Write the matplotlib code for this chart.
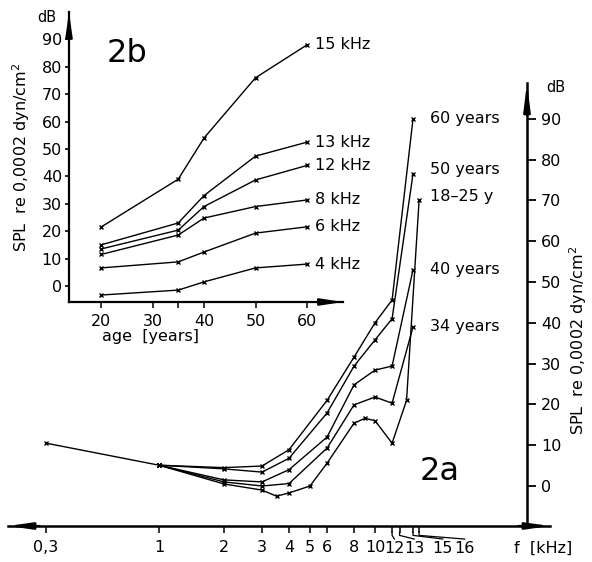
import numpy as np
import matplotlib.pyplot as plt

plt.rcParams['font.family'] = 'DejaVu Sans'
plt.rcParams['font.size'] = 11

W, H = 592, 562

# ---- 2a: threshold (dB SPL) against frequency, one curve per age group
f_start = [0.3, 1]
spl_start = [10.5, 5.1]

f_young = [1, 2, 3, 3.5, 4, 5, 6, 8, 9, 10, 12, 14, 16]
spl_young = [5.1, 0.5, -1.0, -2.5, -1.7, 0.0, 5.6, 15.4, 16.6, 16.0, 10.5, 21.0, 70.0]

f_old = [1, 2, 3, 4, 6, 8, 10, 12, 15]
spl_34 = [5.1, 1.0, 0.0, 0.6, 9.3, 19.9, 21.8, 20.3, 39.0]
spl_40 = [5.1, 1.5, 1.0, 4.0, 12.0, 24.8, 28.4, 29.4, 53.0]
spl_50 = [5.1, 4.2, 3.4, 6.8, 17.9, 29.4, 35.8, 41.0, 76.5]
spl_60 = [5.1, 4.5, 4.9, 8.9, 21.0, 31.6, 40.0, 45.6, 90.0]

age_groups = ['18–25 y', '34 years', '40 years', '50 years', '60 years']
group_label_spl = [71, 39, 53, 77.5, 90]

f_ticks = [0.3, 1, 2, 3, 4, 5, 6, 8, 10, 12, 13, 15, 16]
f_ticklabels = ['0,3', '1', '2', '3', '4', '5', '6', '8', '10', '', '', '', '']
f_offset_labels = ['12', '13', '15', '16']

# ---- 2b: threshold against age, one curve per frequency
ages = [20, 35, 40, 50, 60]
freq_names = ['15 kHz', '13 kHz', '12 kHz', '8 kHz', '6 kHz', '4 kHz']
spl_15k = [21.5, 39.0, 54.0, 76.0, 88.0]
spl_13k = [15.0, 23.0, 33.0, 47.4, 52.5]
spl_12k = [13.5, 20.4, 29.0, 38.7, 44.0]
spl_8k = [11.5, 18.6, 24.8, 29.0, 31.4]
spl_6k = [6.6, 8.8, 12.4, 19.3, 21.6]
spl_4k = [-3.3, -1.5, 1.5, 6.6, 8.0]

age_ticks = [20, 30, 35, 40, 50, 60]
age_ticklabels = ['20', '30', '', '40', '50', '60']
db_ticks = list(range(0, 100, 10))


def frac(x, y):
    return x / W, 1 - y / H


def arrow_head(ax, tip, base, length, width, lw=1.5):
    ax.annotate('', xy=tip, xytext=base,
                arrowprops=dict(arrowstyle='-|>,head_length=%g,head_width=%g' % (length, width),
                                color='k', lw=lw, shrinkA=0, shrinkB=0, mutation_scale=10),
                annotation_clip=False)


fig = plt.figure(figsize=(W / 100, H / 100), dpi=100)

# main axes (2a), placed so the log axis maps like the scan
f_lo, f_hi = 0.2, 10 ** ((550 - 159) / 216)
db_lo, db_hi = (486 - 526) / 4.08, (486 - 83) / 4.08
f_axis = 10 ** ((527 - 159) / 216)

ax = fig.add_axes([8 / W, (H - 526) / H, 542 / W, 443 / H])
ax.set_xscale('log')
ax.set_xlim(f_lo, f_hi)
ax.set_ylim(db_lo, db_hi)
ax.patch.set_alpha(0)
for s in ['left', 'top']:
    ax.spines[s].set_visible(False)
ax.spines['right'].set_position(('data', f_axis))
ax.spines['right'].set_linewidth(1.8)
ax.spines['bottom'].set_linewidth(1.8)
ax.yaxis.set_ticks_position('right')
ax.set_yticks(db_ticks)
ax.tick_params(axis='y', direction='out', length=6.5, width=1.3, pad=3.5, labelsize=11.5)
ax.set_xticks(f_ticks)
ax.set_xticklabels(f_ticklabels)
ax.minorticks_off()
ax.tick_params(axis='x', direction='out', length=5, width=1.1, pad=5, labelsize=11.5)

arrow_head(ax, (f_lo, db_lo), (f_lo * 1.4, db_lo), 1.4, 0.2, lw=1.6)
arrow_head(ax, (f_hi, db_lo), (f_hi / 1.4, db_lo), 1.4, 0.2, lw=1.6)
arrow_head(ax, (f_axis, db_hi), (f_axis, db_hi - 8), 1.6, 0.2, lw=1.6)

# leader lines for the crowded high-frequency tick labels
lead_to = [12.3, 15.2, 20.6, 26.0]
for f0, f1, lab in zip(f_ticks[-4:], lead_to, f_offset_labels):
    ax.plot([f0, f0, f1], [db_lo - 1.5, db_lo - 2.3, db_lo - 3.2], color='k', lw=0.9, clip_on=False)
    ax.text(f1, db_lo - 5.6, lab, ha='center', va='center', fontsize=11.5)

ax.plot(f_start, spl_start, color='k', lw=1.0, marker='x', ms=3, mew=1)
ax.plot(f_young, spl_young, color='k', lw=1.0, marker='x', ms=3, mew=1)
for spl in [spl_34, spl_40, spl_50, spl_60]:
    ax.plot(f_old, spl, color='k', lw=1.0, marker='x', ms=3, mew=1)
for name, y in zip(age_groups, group_label_spl):
    ax.text(18, y, name, ha='left', va='center', fontsize=11.5)

fig.text(*frac(556, 88), 'dB', ha='center', va='center', fontsize=10.5)
fig.text(*frac(578, 340), 'SPL  re 0,0002 dyn/cm$^2$', rotation=90, ha='center', va='center', fontsize=11.5)
fig.text(*frac(543, 548), 'f  [kHz]', ha='center', va='center', fontsize=11.5)
fig.text(*frac(440, 472), '2a', ha='center', va='center', fontsize=23)

# inset axes (2b)
a_lo, a_hi = 20 + (69 - 101) / 5.15, 20 + (343 - 101) / 5.15
d_lo, d_hi = (286 - 302) / 2.74, (286 - 12) / 2.74

ax2 = fig.add_axes([69 / W, (H - 302) / H, 274 / W, 290 / H])
ax2.set_xlim(a_lo, a_hi)
ax2.set_ylim(d_lo, d_hi)
ax2.patch.set_alpha(0)
for s in ['right', 'top']:
    ax2.spines[s].set_visible(False)
ax2.spines['left'].set_linewidth(1.6)
ax2.spines['bottom'].set_linewidth(1.6)
ax2.set_yticks(db_ticks)
ax2.set_xticks(age_ticks)
ax2.set_xticklabels(age_ticklabels)
ax2.tick_params(axis='y', direction='out', length=3, width=1.2, pad=2, labelsize=11.5)
ax2.tick_params(axis='x', direction='out', length=4.5, width=1.1, pad=4, labelsize=11.5)
arrow_head(ax2, (a_lo, d_hi), (a_lo, d_hi - 10), 1.4, 0.2, lw=1.5)
arrow_head(ax2, (a_hi, d_lo), (a_hi - 5, d_lo), 1.3, 0.2, lw=1.5)

for spl, name in zip([spl_15k, spl_13k, spl_12k, spl_8k, spl_6k, spl_4k], freq_names):
    ax2.plot(ages, spl, color='k', lw=1.0, marker='x', ms=3, mew=1)
    ax2.text(61.5, spl[-1], name, ha='left', va='center', fontsize=11.5)

fig.text(*frac(47, 17), 'dB', ha='center', va='center', fontsize=10.5)
fig.text(*frac(21, 157), 'SPL  re 0,0002 dyn/cm$^2$', rotation=90, ha='center', va='center', fontsize=11.5)
fig.text(*frac(150, 337), 'age  [years]', ha='center', va='center', fontsize=11.5)
fig.text(*frac(127, 53), '2b', ha='center', va='center', fontsize=23)

fig.savefig('out.png', dpi=100)
